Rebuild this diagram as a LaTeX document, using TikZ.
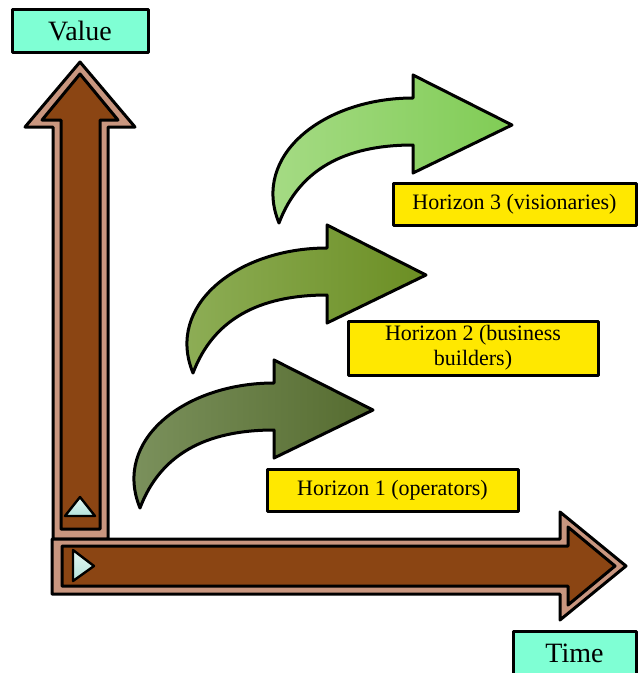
\documentclass[tikz,border=0pt]{standalone}
\usepackage{fontspec}
\setmainfont{LiberationSerif}[Extension=.ttf, UprightFont=*-Regular, BoldFont=*-Bold]
\definecolor{axisfill}{HTML}{7FFFD4}
\definecolor{labelfill}{HTML}{FFE800}
\definecolor{rimtan}{HTML}{C9967F}
\definecolor{shaftbrown}{HTML}{8B4513}
\definecolor{markA}{HTML}{E4F7F3}
\definecolor{markB}{HTML}{B5E3DC}
\definecolor{hOneL}{HTML}{7E9460}
\definecolor{hOneR}{HTML}{556B2F}
\definecolor{hTwoL}{HTML}{90B05A}
\definecolor{hTwoR}{HTML}{6B8E23}
\definecolor{hThreeL}{HTML}{A8DC88}
\definecolor{hThreeR}{HTML}{80CC55}
\tikzset{
  outline/.style={draw=black, line width=3pt, line join=round},
  axisbox/.style={outline, fill=axisfill, inner sep=0pt,
    font=\fontsize{28}{32}\selectfont},
  horizonbox/.style={outline, fill=labelfill, inner sep=0pt, align=center,
    font=\fontsize{22}{25}\selectfont},
  marker/.style={outline, line width=2.4pt, top color=markA, bottom color=markB},
}
% curved growth arrow, drawn at the position of the lowest horizon
\newcommand{\growtharrow}[2]{%
  \path[outline, left color=#1, right color=#2]
    (140,508) .. controls (112,440) and (185,383) .. (274,383)
    -- (274,360) -- (373,410) -- (274,458) -- (274,430)
    .. controls (205,430) and (160,455) .. (140,508) -- cycle;}
\begin{document}
\begin{tikzpicture}[x=1pt, y=-1pt]
  \useasboundingbox (0,0) rectangle (638,673);

  % value axis
  \path[outline, fill=rimtan]
    (53,539) -- (53,127) -- (25,127) -- (80,62) -- (135,127) -- (108,127)
    -- (108,539) -- cycle;
  \path[outline, fill=shaftbrown]
    (61,529) -- (61,120) -- (42,120) -- (80,74) -- (118,120) -- (100,120)
    -- (100,529) -- cycle;
  \path[marker] (80,497) -- (95,516) -- (65,516) -- cycle;

  % time axis
  \path[outline, fill=rimtan]
    (52,539) -- (560,539) -- (560,512) -- (626,566) -- (560,620)
    -- (560,594) -- (52,594) -- cycle;
  \path[outline, fill=shaftbrown]
    (62,546) -- (568,546) -- (568,527) -- (615,566) -- (568,605)
    -- (568,586) -- (62,586) -- cycle;
  \path[marker] (73,550) -- (94,566) -- (73,581) -- cycle;

  % axis labels
  \node[axisbox, minimum width=136pt, minimum height=43pt] (value) at (80,30.5) {Value};
  \node[axisbox, minimum width=123pt, minimum height=45pt] (time) at (574.5,653.5) {Time};

  % growth arrows
  \growtharrow{hOneL}{hOneR}
  \begin{scope}[shift={(53,-135)}]
    \growtharrow{hTwoL}{hTwoR}
  \end{scope}
  \begin{scope}[shift={(139,-285)}]
    \growtharrow{hThreeL}{hThreeR}
  \end{scope}

  % horizon labels
  \node[horizonbox, minimum width=251pt, minimum height=42pt] (h1) at (392.5,490) {Horizon 1 (operators)};
  \node[horizonbox, minimum width=250pt, minimum height=54pt] (h2) at (473,348) {Horizon 2 (business\\builders)};
  \node[horizonbox, minimum width=243pt, minimum height=42pt] (h3) at (514.5,204) {Horizon 3 (visionaries)};
\end{tikzpicture}
\end{document}
